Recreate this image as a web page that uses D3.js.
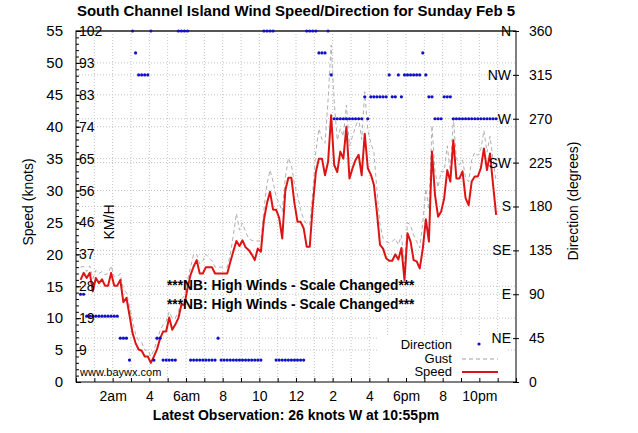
<!DOCTYPE html>
<html lang="en">
<head>
<meta charset="UTF-8">
<title>South Channel Island Wind Speed/Direction</title>
<style>
  body { margin: 0; background: #fff; }
  svg { display: block; font-family: 'Liberation Sans', Arial, sans-serif; }
  .grid line { stroke: #c4c4c4; stroke-width: 1; stroke-dasharray: 1,2; }
  .axis path { display: none; }
  .axis line { stroke: #000; }
  .axis text { fill: #000; }
</style>
</head>
<body>
<svg width="638" height="433"></svg>
<script src="https://d3js.org/d3.v7.min.js"></script>
<script>
// Observation times (10 minute readings)
var times = [
  "0:15","0:25","0:35","0:45","0:55",
  "1:05","1:15","1:25","1:35","1:45","1:55",
  "2:05","2:15","2:25","2:35","2:45","2:55",
  "3:05","3:15","3:25","3:35","3:45","3:55",
  "4:05","4:15","4:25","4:35","4:45","4:55",
  "5:05","5:15","5:25","5:35","5:45","5:55",
  "6:05","6:15","6:25","6:35","6:45","6:55",
  "7:05","7:15","7:25","7:35","7:45","7:55",
  "8:05","8:15","8:25","8:35","8:45","8:55",
  "9:05","9:15","9:25","9:35","9:45","9:55",
  "10:05","10:15","10:25","10:35","10:45","10:55",
  "11:05","11:15","11:25","11:35","11:45","11:55",
  "12:05","12:15","12:25","12:35","12:45","12:55",
  "13:05","13:15","13:25","13:35","13:45","13:55",
  "14:05","14:15","14:25","14:35","14:45","14:55",
  "15:05","15:15","15:25","15:35","15:45","15:55",
  "16:05","16:15","16:25","16:35","16:45","16:55",
  "17:05","17:15","17:25","17:35","17:45","17:55",
  "18:05","18:15","18:25","18:35","18:45","18:55",
  "19:05","19:15","19:25","19:35","19:45","19:55",
  "20:05","20:15","20:25","20:35","20:45","20:55",
  "21:05","21:15","21:25","21:35","21:45","21:55",
  "22:05","22:15","22:25","22:35","22:45","22:55"
];

// Wind speed (knots)
var speed = [
  16.0,17.1,16.3,17.1,14.2,
  16.3,15.5,16.1,15.1,15.1,17.1,
  15.1,15.1,16.0,12.5,13.2,10.5,
  7.7,6.1,5.1,4.9,4.0,4.0,
  3.0,4.0,5.1,6.8,7.9,7.9,
  10.1,8.2,9.0,10.0,12.1,12.1,
  14.7,16.8,18.1,19.1,17.0,17.0,
  18.0,18.0,18.0,17.0,17.0,17.0,
  17.0,17.0,18.8,20.5,22.1,21.3,
  22.2,21.1,20.7,20.0,19.1,20.9,
  20.4,25.4,28.0,29.8,27.0,27.0,
  25.7,22.5,30.0,32.0,32.0,28.0,
  25.1,25.1,24.1,21.2,21.2,27.7,
  32.9,35.0,35.0,32.4,34.5,41.8,
  34.0,32.9,36.1,35.0,40.0,31.9,
  33.5,34.8,35.6,32.4,38.9,33.5,
  32.5,30.9,26.5,21.5,20.9,19.4,
  19.0,19.0,20.0,19.2,21.0,16.0,
  23.3,22.0,19.1,18.9,17.8,20.9,
  25.5,22.0,36.1,29.3,25.9,26.7,
  28.8,33.2,31.4,37.9,31.9,31.9,
  33.0,28.8,27.7,31.4,32.2,32.2,
  33.5,36.6,33.2,35.8,30.9,26.2
];

// Gust (knots)
var gust = [
  18.0,18.1,17.3,18.2,16.2,
  17.5,17.0,17.3,16.8,17.0,18.2,
  16.5,16.5,17.0,14.5,14.0,12.0,
  9.5,7.5,6.5,6.2,5.0,5.0,
  4.0,5.0,6.5,8.0,9.0,9.5,
  11.0,10.0,10.0,11.0,13.0,13.5,
  16.0,18.0,20.0,20.0,18.5,19.0,
  20.0,19.5,19.0,18.0,18.0,18.0,
  18.0,18.0,20.0,23.0,26.4,23.8,
  24.9,23.5,22.5,22.2,22.1,22.1,
  22.1,27.0,31.0,33.2,31.4,29.0,
  28.0,26.7,32.0,35.1,34.0,31.0,
  29.3,27.0,25.5,24.7,24.7,29.8,
  36.1,39.7,38.0,37.4,44.2,52.8,
  43.9,37.9,39.7,38.5,43.4,37.0,
  38.5,40.0,41.4,38.0,45.5,39.5,
  37.4,36.0,30.0,24.7,22.5,22.0,
  21.8,22.0,22.5,21.5,23.0,18.5,
  25.0,24.5,23.0,22.0,21.0,25.0,
  30.3,27.0,40.2,33.0,30.5,33.0,
  33.0,37.0,33.0,41.3,35.0,34.0,
  34.8,32.0,31.4,34.8,36.0,35.5,
  36.5,39.4,36.0,38.5,34.8,31.4
];

// Direction (degrees, N drawn at 360)
var direction = [
  90,90,67.5,67.5,67.5,
  67.5,67.5,67.5,67.5,67.5,67.5,
  67.5,67.5,45,45,45,22.5,
  360,337.5,315,315,315,315,
  360,22.5,45,45,22.5,22.5,
  22.5,22.5,22.5,360,360,360,
  360,22.5,22.5,22.5,22.5,22.5,
  22.5,22.5,22.5,22.5,45,22.5,
  22.5,22.5,22.5,22.5,22.5,22.5,
  22.5,22.5,22.5,22.5,22.5,22.5,
  22.5,360,360,360,360,22.5,
  22.5,22.5,22.5,22.5,22.5,22.5,
  22.5,22.5,22.5,360,360,360,
  360,337.5,337.5,337.5,360,315,
  270,270,270,270,270,270,
  270,270,270,270,292.5,270,
  292.5,292.5,292.5,292.5,292.5,292.5,
  315,292.5,292.5,315,292.5,315,
  315,315,315,315,315,337.5,
  315,292.5,292.5,270,270,270,
  292.5,292.5,292.5,270,270,270,
  270,270,270,270,270,270,
  270,270,270,270,270,270
];

var speedTicks = [0,5,10,15,20,25,30,35,40,45,50,55];
var kmhTicks = [5,10,15,20,25,30,35,40,45,50,55];
var kmhLabels = ["9","19","28","37","46","56","65","74","83","93","102"];
var dirTicks = [0,45,90,135,180,225,270,315,360];
var dirNames = ["","NE","E","SE","S","SW","W","NW","N"];
var hourTicks = [2,4,6,8,10,12,14,16,18,20,22];
var hourLabels = ["2am","4","6am","8","10","12","2","4","6pm","8","10pm"];

var svg = d3.select("svg"),
    margin = {top: 31, right: 122, bottom: 51, left: 76},
    width = +svg.attr("width") - margin.left - margin.right,
    height = +svg.attr("height") - margin.top - margin.bottom;

svg.append("rect").attr("width", 638).attr("height", 433).attr("fill", "#fff");

var g = svg.append("g")
    .attr("transform", "translate(" + margin.left + "," + margin.top + ")");

var parseTime = d3.timeParse("%H:%M");
var day0 = parseTime("0:00"), day1 = d3.timeDay.offset(day0, 1);

var x = d3.scaleTime().domain([day0, day1]).range([0, width]);
var y = d3.scaleLinear().domain([0, 55]).range([height, 0]);
var yDir = d3.scaleLinear().domain([0, 360]).range([height, 0]);

var data = times.map(function(t, i) {
  return {time: parseTime(t), speed: speed[i], gust: gust[i], dir: direction[i]};
});

// grid
var grid = g.append("g").attr("class", "grid");
grid.selectAll(".vg").data(d3.timeHour.range(day0, day1).slice(1))
  .enter().append("line")
  .attr("x1", function(d) { return x(d); }).attr("x2", function(d) { return x(d); })
  .attr("y1", 0).attr("y2", height);
grid.selectAll(".hg").data(speedTicks.slice(1, -1))
  .enter().append("line")
  .attr("x1", 0).attr("x2", width)
  .attr("y1", function(d) { return y(d); }).attr("y2", function(d) { return y(d); });
grid.selectAll(".dg").data(dirTicks.slice(1, -1))
  .enter().append("line")
  .attr("x1", 0).attr("x2", width)
  .attr("y1", function(d) { return yDir(d); }).attr("y2", function(d) { return yDir(d); });

// legend background (covers grid)
g.append("rect")
  .attr("x", 302).attr("y", 306).attr("width", 130).attr("height", 44)
  .attr("fill", "#fff");

// gust line
g.append("path").datum(data)
  .attr("fill", "none")
  .attr("stroke", "#b0b0b0")
  .attr("stroke-width", 1)
  .attr("stroke-dasharray", "4,3")
  .attr("d", d3.line().x(function(d) { return x(d.time); }).y(function(d) { return y(d.gust); }));

// speed line
g.append("path").datum(data)
  .attr("fill", "none")
  .attr("stroke", "#dd1414")
  .attr("stroke-width", 2)
  .attr("stroke-linejoin", "round")
  .attr("d", d3.line().x(function(d) { return x(d.time); }).y(function(d) { return y(d.speed); }));

// frame
g.append("rect").attr("width", width).attr("height", height)
  .attr("fill", "none").attr("stroke", "#000").attr("stroke-width", 1);
g.append("line").attr("x1", 0).attr("x2", width).attr("y1", 0).attr("y2", 0)
  .attr("stroke", "#555").attr("stroke-width", 2);

// direction dots (on top of frame so the N row stays visible)
g.selectAll(".dir").data(data)
  .enter().append("circle")
  .attr("cx", function(d) { return x(d.time); })
  .attr("cy", function(d) { return yDir(d.dir); })
  .attr("r", 1.6)
  .attr("fill", "#1010c8");

// left axis (knots)
g.append("g").attr("class", "axis")
  .call(d3.axisLeft(y).tickValues(d3.range(0, 56, 1)).tickSize(-3).tickFormat(""));
g.append("g").attr("class", "axis")
  .call(d3.axisLeft(y).tickValues(speedTicks).tickSize(-5).tickPadding(13))
  .selectAll("text").attr("font-size", "15px").attr("font-family", "'Liberation Sans', Arial, sans-serif");

// km/h labels inside
g.append("g").attr("class", "axis")
  .call(d3.axisRight(y).tickValues(kmhTicks).tickSize(0).tickPadding(3)
    .tickFormat(function(d, i) { return kmhLabels[i]; }))
  .selectAll("text").attr("font-size", "14px").attr("font-family", "'Liberation Sans', Arial, sans-serif");

// right axis (direction)
g.append("g").attr("class", "axis")
  .attr("transform", "translate(" + width + ",0)")
  .call(d3.axisRight(yDir).tickValues(dirTicks).tickSize(3).tickPadding(10))
  .selectAll("text").attr("font-size", "14px").attr("font-family", "'Liberation Sans', Arial, sans-serif");
g.append("g").attr("class", "axis")
  .attr("transform", "translate(" + width + ",0)")
  .call(d3.axisLeft(yDir).tickValues(dirTicks).tickSize(3).tickPadding(2)
    .tickFormat(function(d, i) { return dirNames[i]; }))
  .selectAll("text").attr("font-size", "14px").attr("font-family", "'Liberation Sans', Arial, sans-serif");

// bottom axis
g.append("g").attr("class", "axis")
  .attr("transform", "translate(0," + height + ")")
  .call(d3.axisBottom(x).ticks(d3.timeHour.every(1)).tickSize(-4).tickFormat(""));
g.append("g").attr("class", "axis")
  .attr("transform", "translate(0," + height + ")")
  .call(d3.axisBottom(x).tickValues(hourTicks.map(function(h) { return d3.timeHour.offset(day0, h); }))
    .tickSize(0).tickPadding(9)
    .tickFormat(function(d, i) { return hourLabels[i]; }))
  .selectAll("text").attr("font-size", "14px").attr("font-family", "'Liberation Sans', Arial, sans-serif");

// texts
svg.append("text").attr("x", 296).attr("y", 16).attr("text-anchor", "middle")
  .attr("font-size", "15px").attr("font-weight", "bold")
  .text("South Channel Island Wind Speed/Direction for Sunday Feb 5");
svg.append("text").attr("x", 296).attr("y", 420).attr("text-anchor", "middle")
  .attr("font-size", "14px").attr("font-weight", "bold")
  .text("Latest Observation: 26 knots W at 10:55pm");
svg.append("text").attr("transform", "translate(28,202) rotate(-90)")
  .attr("text-anchor", "middle").attr("dominant-baseline", "central")
  .attr("font-size", "14px").text("Speed (knots)");
svg.append("text").attr("transform", "translate(573,201) rotate(-90)")
  .attr("text-anchor", "middle").attr("dominant-baseline", "central")
  .attr("font-size", "14px").text("Direction (degrees)");
svg.append("text").attr("transform", "translate(109,222) rotate(-90)")
  .attr("text-anchor", "middle").attr("dominant-baseline", "central")
  .attr("font-size", "14px").text("KM/H");
svg.append("text").attr("x", 80).attr("y", 376)
  .attr("font-size", "11px").text("www.baywx.com");
[290, 309].forEach(function(yy) {
  svg.append("text").attr("x", 167).attr("y", yy)
    .attr("font-size", "13.8px").attr("font-weight", "bold")
    .text("***NB: High Winds - Scale Changed***");
});

// legend
var lg = svg.append("g").attr("font-size", "13px").attr("text-anchor", "end");
lg.append("text").attr("x", 452).attr("y", 349).text("Direction");
lg.append("text").attr("x", 452).attr("y", 362.5).text("Gust");
lg.append("text").attr("x", 452).attr("y", 376).text("Speed");
lg.append("circle").attr("cx", 479).attr("cy", 344).attr("r", 1.6).attr("fill", "#1010c8");
lg.append("line").attr("x1", 462).attr("x2", 498).attr("y1", 359).attr("y2", 359)
  .attr("stroke", "#c0c0c0").attr("stroke-width", 1.5).attr("stroke-dasharray", "4,3");
lg.append("line").attr("x1", 462).attr("x2", 498).attr("y1", 372).attr("y2", 372)
  .attr("stroke", "#dd1414").attr("stroke-width", 2);
</script>
</body>
</html>
